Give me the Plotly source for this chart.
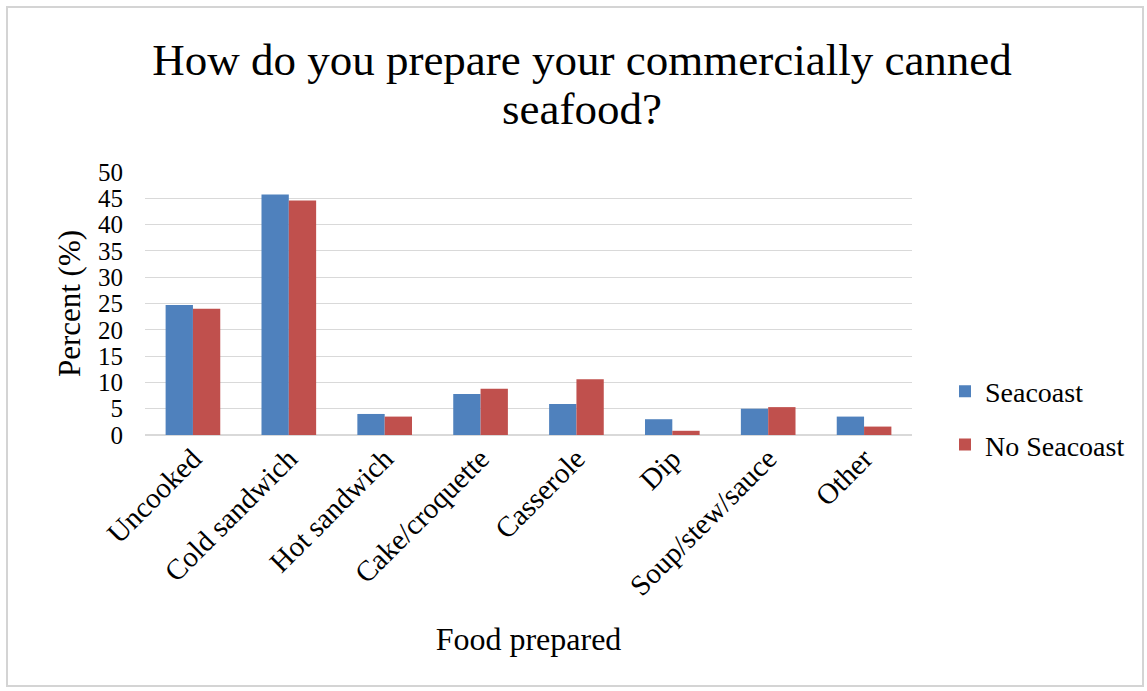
import plotly.graph_objects as go

categories = ["Uncooked", "Cold sandwich", "Hot sandwich", "Cake/croquette",
              "Casserole", "Dip", "Soup/stew/sauce", "Other"]
seacoast = [24.7, 45.7, 4.0, 7.8, 5.9, 3.0, 5.0, 3.5]
no_seacoast = [24.0, 44.6, 3.5, 8.8, 10.6, 0.8, 5.3, 1.6]
y_ticks = [0, 5, 10, 15, 20, 25, 30, 35, 40, 45, 50]
title_line1 = "How do you prepare your commercially canned"
title_line2 = "seafood?"

FONT = "Liberation Serif, Times New Roman, serif"

fig = go.Figure()
fig.add_trace(go.Bar(name="Seacoast", x=categories, y=seacoast,
                     marker=dict(color="#4F81BD", line=dict(width=0)),
                     legendgroup="a"))
fig.add_trace(go.Bar(name="No Seacoast", x=categories, y=no_seacoast,
                     marker=dict(color="#C0504D", line=dict(width=0)),
                     legendgroup="b"))

L, R, T, B = 145, 235, 172, 256
W, H = 1147, 691
pw, ph = W - L - R, H - T - B

def px(x):
    return (x - L) / pw

def py(y):
    return (H - B - y) / ph

fig.update_layout(
    width=W, height=H,
    margin=dict(l=L, r=R, t=T, b=B),
    paper_bgcolor="white", plot_bgcolor="white",
    font=dict(family=FONT, color="#000000", size=27),
    barmode="group", bargap=0.43, bargroupgap=0,
    title=dict(text=title_line1,
               x=582 / W, xanchor="center", y=1 - 59 / H, yanchor="middle",
               font=dict(family=FONT, size=45, color="#000000")),
    xaxis=dict(showgrid=False, showline=False, ticks="", tickangle=-45,
               tickfont=dict(size=29), automargin=False,
               title=dict(text="Food prepared", font=dict(size=32), standoff=26)),
    yaxis=dict(range=[0, 50], tickvals=y_ticks, showgrid=True,
               gridcolor="#D9D9D9", gridwidth=1, zeroline=True,
               zerolinecolor="#D9D9D9", showline=False, ticks="",
               tickfont=dict(size=25), ticklabelstandoff=21, automargin=False,
               title=dict(text="Percent (%)", font=dict(size=31), standoff=8)),
    legend=dict(x=px(945), xanchor="left", y=py(418), yanchor="middle",
                font=dict(size=28), tracegroupgap=14, itemwidth=30,
                bgcolor="rgba(0,0,0,0)"),
    showlegend=True,
    annotations=[dict(text=title_line2, xref="paper", yref="paper",
                      x=px(582), y=py(109), xanchor="center", yanchor="middle",
                      showarrow=False, font=dict(family=FONT, size=45, color="#000000"))],
    shapes=[dict(type="rect", xref="paper", yref="paper",
                 x0=px(7), x1=px(1143), y0=py(686), y1=py(7),
                 line=dict(color="#D4D4D4", width=2), layer="below")],
)

fig.write_html("out.html")
